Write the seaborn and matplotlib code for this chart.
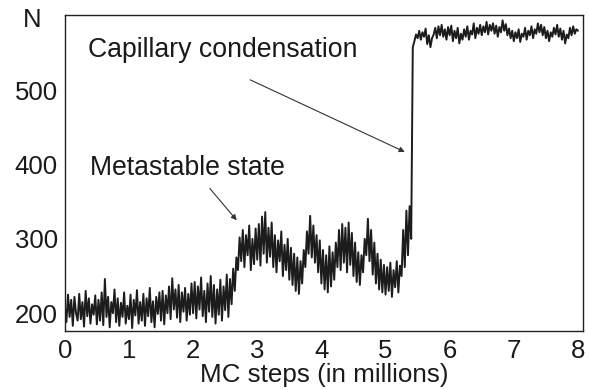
import numpy as np
import pandas as pd
import matplotlib
matplotlib.use("Agg")
import matplotlib.pyplot as plt
import seaborn as sns

# number of adsorbed molecules N, read every 0.025 million MC steps
n_values = [
    210, 188, 225, 195, 218, 183, 222, 200, 190, 226,
    192, 215, 182, 230, 196, 220, 186, 212, 198, 224,
    185, 218, 190, 228, 184, 246, 195, 222, 181, 215,
    200, 232, 188, 220, 183, 214, 195, 228, 186, 210,
    192, 225, 180, 218, 197, 231, 186, 215, 190, 226,
    183, 220, 196, 234, 188, 216, 181, 222, 199, 228,
    190, 230, 185, 224, 200, 236, 192, 247, 205, 232,
    194, 238, 188, 228, 202, 234, 190, 226, 198, 240,
    200, 242, 193, 236, 205, 248, 196, 230, 188, 240,
    202, 250, 195, 238, 186, 232, 198, 245, 190, 236,
    204, 252, 195, 246, 212, 260, 230, 275, 258, 302,
    270, 312, 262, 305, 278, 318, 258, 300, 266, 314,
    272, 320, 264, 330, 280, 336, 268, 315, 276, 322,
    262, 305, 255, 298, 270, 310, 250, 292, 258, 300,
    245, 288, 238, 280, 230, 275, 226, 270, 240, 285,
    262, 310, 280, 331, 275, 318, 268, 305, 255, 298,
    240, 285, 232, 278, 228, 290, 236, 282, 245, 295,
    262, 312, 258, 320, 268, 315, 255, 322, 265, 308,
    250, 295, 242, 282, 238, 278, 255, 300, 278, 327,
    270, 312, 252, 295, 240, 280, 232, 272, 228, 265,
    225, 262, 230, 268, 222, 258, 235, 270, 228, 264,
    250, 312, 262, 338, 278, 344, 300, 558, 566, 575,
    570, 580, 568, 578, 572, 583, 562, 574, 558, 570,
    575, 584, 570, 586, 574, 588, 572, 582, 568, 585,
    574, 587, 566, 580, 570, 584, 563, 576, 568, 582,
    572, 586, 568, 580, 575, 590, 570, 584, 576, 588,
    574, 586, 578, 592, 575, 588, 580, 590, 576, 587,
    572, 585, 578, 594, 580, 589, 574, 583, 570, 580,
    566, 578, 570, 582, 565, 576, 572, 584, 568, 580,
    574, 586, 570, 582, 576, 590, 578, 588, 574, 585,
    570, 580, 566, 578, 572, 584, 575, 588, 572, 583,
    568, 580, 563, 575, 570, 584, 574, 586, 576, 582,
    580,
]
step_size = 0.025
x_ticks = [0, 1, 2, 3, 4, 5, 6, 7, 8]
y_ticks = [200, 300, 400, 500]

df = pd.DataFrame({'steps': np.arange(len(n_values)) * step_size, 'N': n_values})

sns.set_style('white')
plt.rcParams['font.family'] = ['Liberation Sans', 'DejaVu Sans']

fig = plt.figure(figsize=(5.89, 3.89), dpi=100)
ax = fig.add_axes([0.110, 0.149, 0.880, 0.812])

sns.lineplot(data=df, x='steps', y='N', estimator=None, color='#1c1c1c', linewidth=1.4, ax=ax)

ax.set_xlim(0, 8.08)
ax.set_ylim(176, 601)
ax.set_xticks(x_ticks)
ax.set_yticks(y_ticks)
ax.tick_params(direction='in', length=8, width=1, labelsize=18.5, color='#222222',
               labelcolor='#1a1a1a', top=False, right=False)
ax.tick_params(axis='x', pad=6)
ax.tick_params(axis='y', pad=5)
for s in ax.spines.values():
    s.set_linewidth(1)
    s.set_color('#222222')

ax.set_xlabel('MC steps (in millions)', fontsize=18.7, color='#1a1a1a', labelpad=0)
ax.set_ylabel('')
ax.text(-0.062, 0.984, 'N', transform=ax.transAxes, fontsize=18.5, color='#1a1a1a',
        ha='center', va='center')

arrow = dict(arrowstyle='-|>', lw=0.8, color='#333333', mutation_scale=8, shrinkA=0, shrinkB=0)
ax.text(0.36, 554, 'Capillary condensation', fontsize=19.2, color='#1a1a1a', va='center', ha='left')
ax.annotate('', xy=(5.30, 417), xytext=(2.89, 514), arrowprops=arrow)
ax.text(0.39, 395, 'Metastable state', fontsize=19.2, color='#1a1a1a', va='center', ha='left')
ax.annotate('', xy=(2.68, 325), xytext=(2.26, 368), arrowprops=arrow)

fig.savefig('out.png', dpi=100)
